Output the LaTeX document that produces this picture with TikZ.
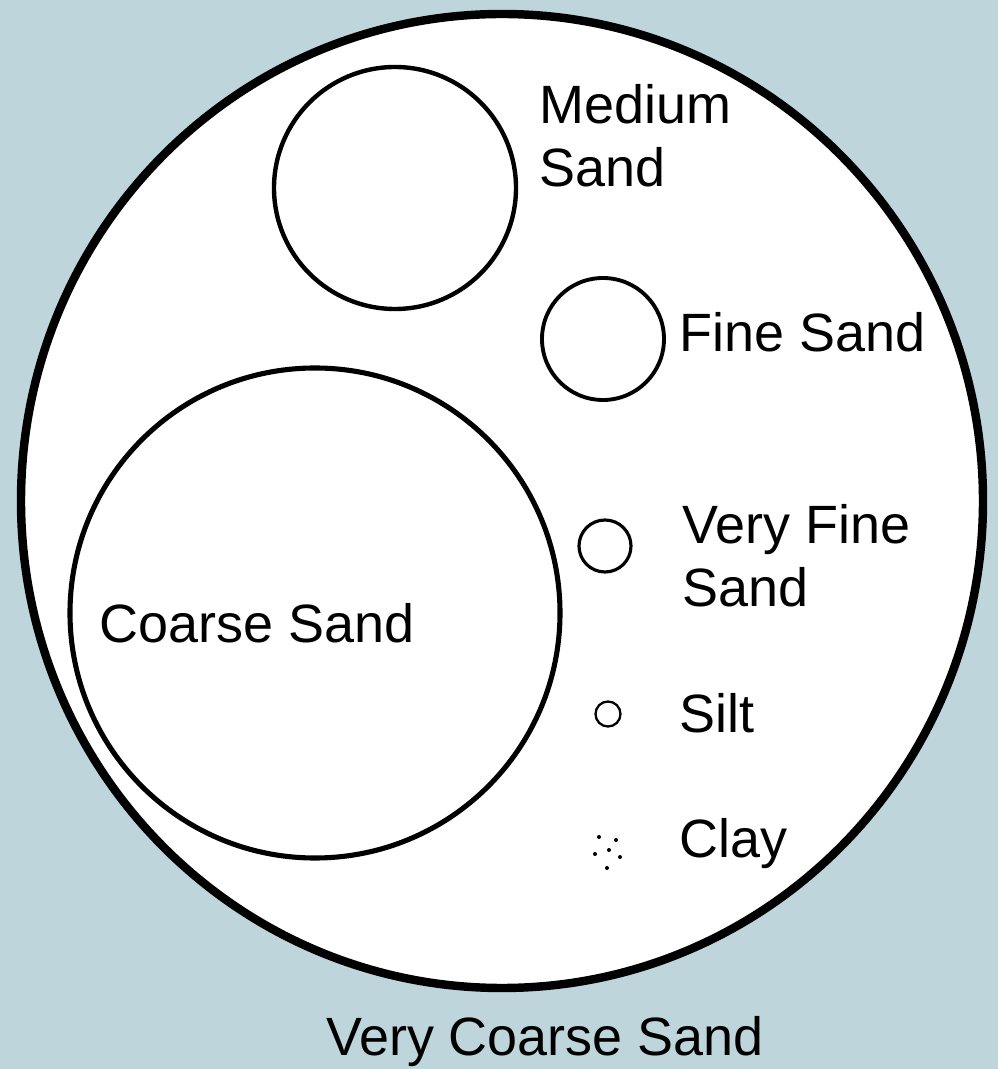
\documentclass[tikz,border=0pt]{standalone}
\usepackage{fontspec}
\setmainfont{Liberation Sans}
\usepackage{xcolor}
\definecolor{soilbg}{RGB}{190,214,219}
\tikzset{lbl/.style={font=\fontsize{30.7}{36.4}\selectfont,inner sep=0pt,align=left,anchor=base west}}

\begin{document}
\begin{tikzpicture}[x=1cm,y=1cm]
 \fill[soilbg] (0,0) rectangle (19.96,21.38);
 \useasboundingbox (0,0) rectangle (19.96,21.38);
 \draw[line width=4.8pt,fill=white] (10.04,11.36) ellipse (9.62 and 9.74);
 \draw[line width=2.5pt] (7.90,17.62) circle (2.42);
 \draw[line width=2.2pt] (12.06,14.60) circle (1.22);
 \draw[line width=2.9pt] (6.30,9.12) circle (4.90);
 \draw[line width=1.8pt] (12.10,10.46) circle (0.52);
 \draw[line width=1.3pt] (12.16,7.10) circle (0.25);
 \foreach \p in {(11.98,4.64),(12.32,4.58),(12.18,4.38),(11.90,4.30),(12.40,4.24),(12.14,4.02)}
  \fill \p circle (0.04);
 \node[lbl] (medium) at (10.78,17.64) {Medium\\Sand};
 \node[lbl] (fine) at (13.58,14.34) {Fine Sand};
 \node[lbl] (vfine) at (13.64,9.24) {Very Fine\\Sand};
 \node[lbl] (silt) at (13.58,6.72) {Silt};
 \node[lbl] (clay) at (13.58,4.22) {Clay};
 \node[lbl] (coarse) at (1.98,8.52) {Coarse Sand};
 \node[lbl,anchor=base] (vcoarse) at (10.90,0.28) {Very Coarse Sand};
\end{tikzpicture}
\end{document}
